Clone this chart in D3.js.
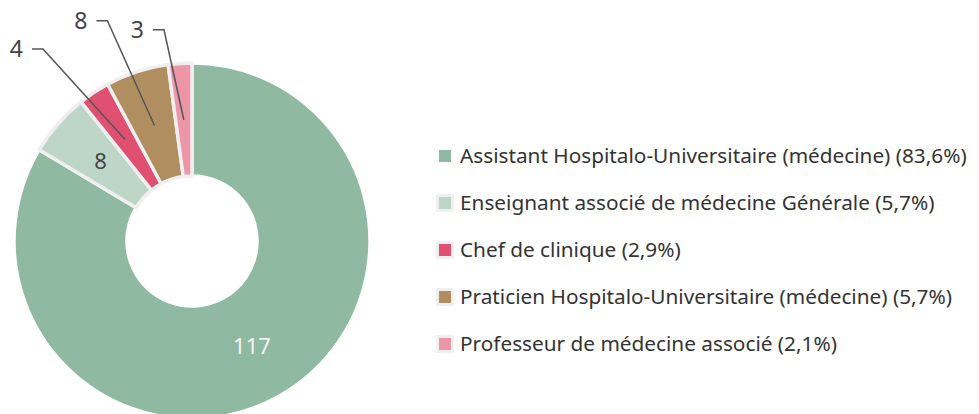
<!DOCTYPE html>
<html>
<head>
  <meta charset="utf-8">
  <title>Répartition</title>
  <script src="https://d3js.org/d3.v7.min.js"></script>
  <style>
    body { margin: 0; background: #fff; }
    text { font-family: "Noto Sans", "Open Sans", sans-serif; }
  </style>
</head>
<body>
  <svg id="chart" width="979" height="414"></svg>

  <script>
    // Data
    var categories = [
      "Assistant Hospitalo-Universitaire (médecine)",
      "Enseignant associé de médecine Générale",
      "Chef de clinique",
      "Praticien Hospitalo-Universitaire (médecine)",
      "Professeur de médecine associé"
    ];
    var values = [117, 8, 4, 8, 3];
    var percentLabels = ["83,6%", "5,7%", "2,9%", "5,7%", "2,1%"];
    var colors = ["#8fb9a1", "#bed6c8", "#e05071", "#b08e60", "#ec96a8"];

    var data = categories.map(function(c, i) {
      return { name: c, value: values[i], pct: percentLabels[i], color: colors[i] };
    });

    var svg = d3.select("#chart");
    var cx = 192, cy = 241;
    var innerR = 65, outerR = 178;

    var pie = d3.pie()
      .sort(null)
      .value(function(d) { return d.value; });

    var arc = d3.arc().innerRadius(innerR).outerRadius(outerR);

    var g = svg.append("g")
      .attr("transform", "translate(" + cx + "," + cy + ")");

    var arcs = pie(data);

    // Slices (big one first, small ones on top with grey outline)
    g.selectAll("path.slice")
      .data(arcs)
      .enter()
      .append("path")
      .attr("class", "slice")
      .attr("d", arc)
      .attr("fill", function(d) { return d.data.color; })
      .attr("stroke", function(d, i) { return i === 0 ? "#ffffff" : "#efefef"; })
      .attr("stroke-width", 3.5)
      .attr("stroke-linejoin", "round");

    // Labels inside the slices
    var insideColor = ["#f4f4f4", "#444444"];
    g.selectAll("text.inside")
      .data(arcs.slice(0, 2))
      .enter()
      .append("text")
      .attr("class", "inside")
      .attr("transform", function(d) { return "translate(" + arc.centroid(d) + ")"; })
      .attr("text-anchor", "middle")
      .attr("dy", "0.35em")
      .attr("font-size", "22px")
      .attr("fill", function(d, i) { return insideColor[i]; })
      .text(function(d) { return d.value; });

    // Outside labels with leader lines (angle shift in degrees, elbow radius)
    var outsideLayout = [
      { idx: 2, shift: -4.4, r: 243 },
      { idx: 3, shift: -3.0, r: 236 },
      { idx: 4, shift: -3.7, r: 213 }
    ];

    function polar(angle, r) {
      return [Math.sin(angle) * r, -Math.cos(angle) * r];
    }

    outsideLayout.forEach(function(l) {
      var d = arcs[l.idx];
      var mid = (d.startAngle + d.endAngle) / 2;
      var p0 = arc.centroid(d);
      var p1 = polar(mid + l.shift * Math.PI / 180, l.r);
      var p2 = [p1[0] - 11, p1[1]];

      g.append("polyline")
        .attr("points", [p0, p1, p2].map(function(p) { return p.join(","); }).join(" "))
        .attr("fill", "none")
        .attr("stroke", "#555")
        .attr("stroke-width", 1.5);

      g.append("text")
        .attr("x", p2[0] - 9)
        .attr("y", p2[1])
        .attr("dy", "0.35em")
        .attr("text-anchor", "end")
        .attr("font-size", "23px")
        .attr("fill", "#444")
        .text(d.value);
    });

    // Legend
    var legend = svg.append("g")
      .attr("transform", "translate(439,156)");

    var row = legend.selectAll("g.row")
      .data(data)
      .enter()
      .append("g")
      .attr("class", "row")
      .attr("transform", function(d, i) { return "translate(0," + (i * 47) + ")"; });

    row.filter(function(d, i) { return i > 0; })
      .append("rect")
      .attr("x", -3)
      .attr("y", -9)
      .attr("width", 18)
      .attr("height", 18)
      .attr("rx", 2)
      .attr("fill", "#efefef");

    row.append("rect")
      .attr("x", 0)
      .attr("y", -6)
      .attr("width", 12)
      .attr("height", 12)
      .attr("fill", function(d) { return d.color; });

    var labels = row.append("text")
      .attr("x", 21)
      .attr("y", 0)
      .attr("dy", "0.35em")
      .attr("font-size", "18px")
      .attr("fill", "#333")
      .text(function(d) { return d.name + " (" + d.pct + ")"; });

    // fit the legend font so the longest line spans about 507px like the original
    var w0 = labels.nodes()[0].getComputedTextLength();
    var fs = 18 * 507 / w0;
    labels.attr("font-size", fs + "px");
  </script>
</body>
</html>
